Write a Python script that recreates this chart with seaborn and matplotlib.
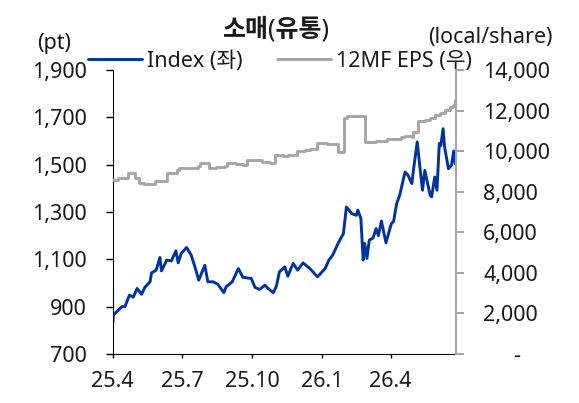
import numpy as np
import pandas as pd
import seaborn as sns
import matplotlib.pyplot as plt
import matplotlib.dates as mdates
from matplotlib.ticker import FuncFormatter
from matplotlib.transforms import ScaledTranslation

# Index (left axis, pt)
idx_dates = ["2025-04-01", "2025-04-02", "2025-04-06", "2025-04-13", "2025-04-17", "2025-04-23",
             "2025-04-28", "2025-05-03", "2025-05-09", "2025-05-13", "2025-05-20", "2025-05-22",
             "2025-05-28", "2025-06-02", "2025-06-04", "2025-06-11", "2025-06-17", "2025-06-23",
             "2025-06-26", "2025-06-30", "2025-07-07", "2025-07-13", "2025-07-18", "2025-07-23",
             "2025-07-31", "2025-08-04", "2025-08-11", "2025-08-17", "2025-08-25", "2025-08-28",
             "2025-09-05", "2025-09-13", "2025-09-19", "2025-09-30", "2025-10-05", "2025-10-11",
             "2025-10-18", "2025-10-22", "2025-10-29", "2025-11-02", "2025-11-06", "2025-11-13",
             "2025-11-17", "2025-11-24", "2025-11-30", "2025-12-07", "2025-12-16", "2025-12-26",
             "2026-01-05", "2026-01-10", "2026-01-15", "2026-01-22", "2026-01-29", "2026-02-02",
             "2026-02-09", "2026-02-15", "2026-02-17", "2026-02-21", "2026-02-24", "2026-02-26",
             "2026-03-01", "2026-03-04", "2026-03-09", "2026-03-13", "2026-03-16", "2026-03-20",
             "2026-03-23", "2026-03-26", "2026-04-02", "2026-04-05", "2026-04-09", "2026-04-13",
             "2026-04-20", "2026-04-24", "2026-04-29", "2026-05-01", "2026-05-06", "2026-05-10",
             "2026-05-13", "2026-05-16", "2026-05-23", "2026-05-25", "2026-05-29", "2026-06-01",
             "2026-06-04", "2026-06-06", "2026-06-09", "2026-06-11", "2026-06-16", "2026-06-20",
             "2026-06-23", "2026-06-25"]
idx_vals = [830, 865, 878, 900, 900, 949,
            940, 977, 952, 981, 1005, 1043,
            1054, 1108, 1051, 1097, 1093, 1136,
            1085, 1125, 1150, 1118, 1068, 1012,
            1075, 1005, 1005, 995, 959, 984,
            1005, 1061, 1024, 1019, 981, 973,
            991, 977, 959, 987, 1047, 1068,
            1029, 1083, 1054, 1085, 1061, 1026,
            1061, 1097, 1118, 1167, 1209, 1321,
            1293, 1286, 1308, 1273, 1097, 1167,
            1104, 1181, 1190, 1230, 1200, 1262,
            1215, 1170, 1251, 1260, 1336, 1371,
            1469, 1455, 1420, 1476, 1596, 1476,
            1392, 1476, 1371, 1364, 1448, 1392,
            1589, 1580, 1652, 1575, 1483, 1497,
            1558, 1504]

# 12MF EPS (right axis, local/share), step changes
eps_dates = ["2025-04-01", "2025-04-08", "2025-04-21", "2025-04-30", "2025-05-06", "2025-05-12",
             "2025-05-27", "2025-06-11", "2025-06-25", "2025-06-27", "2025-07-22", "2025-07-25",
             "2025-08-05", "2025-08-15", "2025-08-26", "2025-08-29", "2025-09-10", "2025-09-19",
             "2025-09-24", "2025-10-14", "2025-10-24", "2025-10-31", "2025-11-11", "2025-11-17",
             "2025-11-29", "2025-12-09", "2025-12-16", "2025-12-25", "2026-01-07", "2026-01-22",
             "2026-01-30", "2026-02-03", "2026-02-26", "2026-03-13", "2026-03-27", "2026-04-15",
             "2026-04-20", "2026-04-29", "2026-05-01", "2026-05-07", "2026-05-16", "2026-05-23",
             "2026-05-29", "2026-06-05", "2026-06-11", "2026-06-18", "2026-06-22", "2026-06-25"]
eps_vals = [8600, 8700, 8930, 8700, 8450, 8370,
            8550, 8930, 9060, 9150, 9260, 9420,
            9150, 9200, 9260, 9420, 9380, 9310,
            9560, 9480, 9420, 9800, 9760, 9800,
            10015, 10060, 10130, 10380, 10340, 9970,
            11610, 11720, 10460, 10500, 10580, 10680,
            10750, 10680, 10950, 11490, 11550, 11610,
            11770, 11890, 12050, 12180, 12270, 12500]

xtick_dates = ["2025-04-01", "2025-07-01", "2025-10-01", "2026-01-01", "2026-04-01"]
left_ticks = [700, 900, 1100, 1300, 1500, 1700, 1900]
right_ticks = [0, 2000, 4000, 6000, 8000, 10000, 12000, 14000]

blue = "#0033A0"
grey = "#A6A6A6"
txt = "#1a1a1a"

sns.set_style("ticks")
plt.rcParams['font.family'] = ['Noto Sans', 'Noto Sans CJK KR', 'DejaVu Sans']

idx = pd.DataFrame({"date": pd.to_datetime(idx_dates), "val": idx_vals})
eps = pd.DataFrame({"date": pd.to_datetime(eps_dates), "val": eps_vals})

fig = plt.figure(figsize=(5.79, 4.03), dpi=100)
ax = fig.add_axes([0.1947, 0.1216, 0.5929, 0.7047])
ax2 = ax.twinx()

sns.lineplot(data=idx, x="date", y="val", ax=ax, color=blue, lw=2.1, estimator=None)
sns.lineplot(data=eps, x="date", y="val", ax=ax2, color=grey, lw=2.1, estimator=None,
             drawstyle="steps-post")

fs = 15.5
ax.set_xlim(pd.Timestamp("2025-04-01"), pd.Timestamp("2026-06-26"))
ax.set_ylim(700, 1900)
ax.set_yticks(left_ticks)
ax.set_yticklabels([f"{v:,}" for v in left_ticks])
ax.set_xticks(pd.to_datetime(xtick_dates))
ax.xaxis.set_major_formatter(FuncFormatter(
    lambda v, p: f"{mdates.num2date(v).year % 100}.{mdates.num2date(v).month}"))
ax.set_xlabel("")
ax.set_ylabel("")
ax.tick_params(axis="y", length=4.8, width=1, color="black", labelsize=fs, labelcolor=txt, pad=13.7)
ax.tick_params(axis="x", length=3, width=1, color="black", labelsize=fs, labelcolor=txt, pad=9)
ax.spines["top"].set_visible(False)
ax.spines["right"].set_visible(False)
ax.spines["left"].set_color("black")
ax.spines["bottom"].set_color("black")

ax2.set_ylim(0, 14000)
ax2.set_yticks(right_ticks)
ax2.set_yticklabels(["-"] + [f"{v:,}" for v in right_ticks[1:]])
ax2.set_ylabel("")
ax2.tick_params(axis="y", length=5.8, width=1.5, color=grey, labelsize=fs, labelcolor=txt, pad=13.7)
for s in ["top", "left", "bottom"]:
    ax2.spines[s].set_visible(False)
ax2.spines["right"].set_color(grey)
ax2.spines["right"].set_linewidth(1.5)
# the zero label sits further right, as in the original number format
dash = ax2.get_yticklabels()[0]
dash.set_transform(dash.get_transform() + ScaledTranslation(0.3, 0, fig.dpi_scale_trans))

fig.text(276 / 579, 1 - 30 / 403, "소매(유통)", ha="center", va="center",
         fontsize=18, fontweight="bold", color=txt)
fig.text(54 / 579, 1 - 43 / 403, "(pt)", ha="center", va="center", fontsize=fs, color=txt)
fig.text(553 / 579, 1 - 38 / 403, "(local/share)", ha="right", va="center", fontsize=fs, color=txt)

handles = [plt.Line2D([], [], color=blue, lw=2.1), plt.Line2D([], [], color=grey, lw=2.1)]
fig.legend(handles, ["Index (좌)", "12MF EPS (우)"], loc="center left",
           bbox_to_anchor=(88 / 579, 1 - 61 / 403), ncol=2, frameon=False, fontsize=fs,
           handlelength=2.5, handletextpad=0.25, columnspacing=1.6,
           borderpad=0, borderaxespad=0, labelcolor=txt)

fig.savefig("out.png", dpi=100)
